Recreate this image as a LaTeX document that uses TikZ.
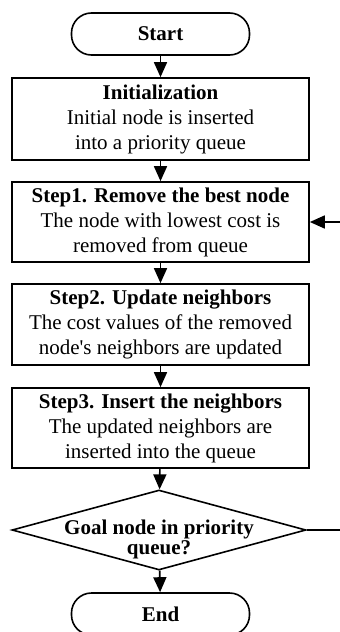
\documentclass[tikz,border=0pt]{standalone}
\usepackage{fontspec}
\setmainfont{Liberation Serif}
\usetikzlibrary{shapes.geometric,arrows.meta}
\begin{document}
\begin{tikzpicture}[x=1pt,y=-1pt,
  txt/.style={font=\fontsize{21}{25}\selectfont},
  term/.style={draw, line width=1.6pt, rounded corners=20pt, minimum width=178pt,
    minimum height=42pt, inner sep=0pt, font=\fontsize{21}{25}\selectfont\bfseries},
  stepbox/.style={draw, line width=1.7pt, minimum width=297pt, minimum height=80pt,
    inner sep=0pt, align=center, txt},
  decision/.style={draw, diamond, line width=1.6pt, minimum width=294pt,
    minimum height=80pt, inner sep=0pt},
  flow/.style={line width=1.7pt, -{Triangle[width=13pt,length=15pt]}}
]
\useasboundingbox (0,0) rectangle (340,632);
\clip (0,0) rectangle (340,632);

% terminals, steps and the decision
\node[term] (start) at (160.5,34) {Start};
\node[stepbox, minimum height=82pt] (init) at (160.5,119)
  {\textbf{Initialization}\\Initial node is inserted\\into a priority queue};
\node[stepbox] (s1) at (160.5,222)
  {\textbf{Step1. Remove the best node}\\The node with lowest cost is\\removed from queue};
\node[stepbox, minimum height=81pt] (s2) at (160.5,324.5)
  {\textbf{Step2. Update neighbors}\\The cost values of the removed\\node\textquotesingle s neighbors are updated};
\node[stepbox] (s3) at (160.5,428)
  {\textbf{Step3. Insert the neighbors}\\The updated neighbors are\\inserted into the queue};
\node[decision] (goal) at (159,530) {};
\node[align=center, font=\fontsize{21}{20}\selectfont\bfseries, inner sep=0pt]
  (goaltext) at (159,539) {Goal node in priority\\queue?};
\node[term] (end) at (160.5,614) {End};

% main flow
\draw[flow] (start) -- (init);
\draw[flow] (init) -- (s1);
\draw[flow] (s1) -- (s2);
\draw[flow] (s2) -- (s3);
\draw[flow] (s3) -- (goal);
\draw[flow] (goal) -- (end);

% loop back to step 1
\draw[flow] (goal.east) -- ++(50,0) |- (s1.east);
\end{tikzpicture}
\end{document}
